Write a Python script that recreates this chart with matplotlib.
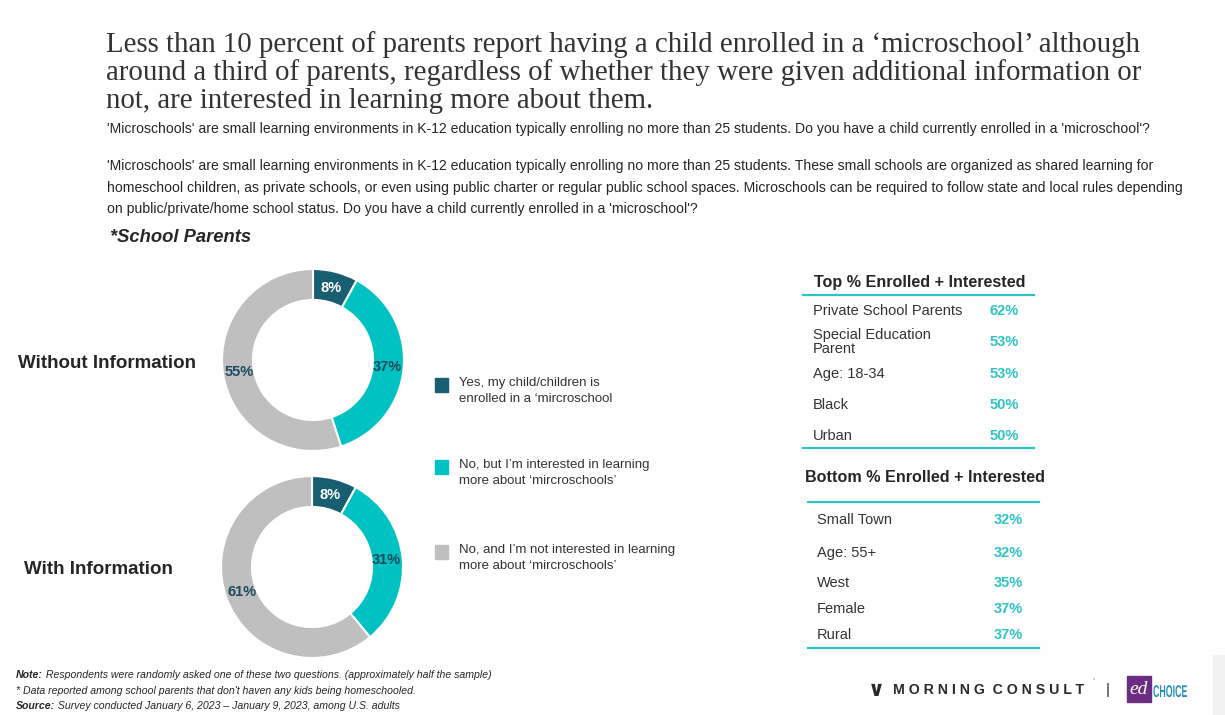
import matplotlib
matplotlib.use("Agg")
import matplotlib.pyplot as plt
from matplotlib.patches import Rectangle, PathPatch
from matplotlib.textpath import TextPath
from matplotlib.font_manager import FontProperties
from matplotlib.transforms import Affine2D

# 데이터
answers = ["Yes, my child/children is\nenrolled in a \u2018mircroschool",
           "No, but I\u2019m interested in learning\nmore about \u2018mircroschools\u2019",
           "No, and I\u2019m not interested in learning\nmore about \u2018mircroschools\u2019"]
without_info = [8, 37, 55]
with_info = [8, 31, 61]
groups = ["Without Information", "With Information"]

top_labels = ["Private School Parents", "Special Education\nParent", "Age: 18-34", "Black", "Urban"]
top_values = [62, 53, 53, 50, 50]
bottom_labels = ["Small Town", "Age: 55+", "West", "Female", "Rural"]
bottom_values = [32, 32, 35, 37, 37]

colors = ["#175f70", "#00c2c2", "#bfbfbf"]
pct_colors = ["white", "#1b4a5c", "#1b4a5c"]
cyan = "#2ec4c4"

W, H = 1225, 715
fig = plt.figure(figsize=(W / 100, H / 100), dpi=100)
renderer = fig.canvas.get_renderer()

def fx(x):
    return x / W

def fy(y):
    return 1 - y / H

# 제목
title_lines = ["Less than 10 percent of parents report having a child enrolled in a \u2018microschool\u2019 although",
               "around a third of parents, regardless of whether they were given additional information or",
               "not, are interested in learning more about them."]
for line, y in zip(title_lines, [45, 73, 101]):
    fig.text(fx(106), fy(y), line, family="Liberation Serif", fontsize=20.8, color="#333333",
             va="center", ha="left")

sub_lines = [("'Microschools' are small learning environments in K-12 education typically enrolling no more than 25 students. "
              "Do you have a child currently enrolled in a 'microschool'?", 129),
             ("'Microschools' are small learning environments in K-12 education typically enrolling no more than 25 students. "
              "These small schools are organized as shared learning for", 166),
             ("homeschool children, as private schools, or even using public charter or regular public school spaces. "
              "Microschools can be required to follow state and local rules depending", 188),
             ("on public/private/home school status. Do you have a child currently enrolled in a 'microschool'?", 209)]
for line, y in sub_lines:
    fig.text(fx(107), fy(y), line, family="Liberation Sans", fontsize=10.1, color="#262626", va="center")

fig.text(fx(110), fy(238), "*School Parents", family="Liberation Sans", fontsize=13.2, weight="bold",
         style="italic", color="#262626", va="center")

# 도넛 차트
centers = [(313, 360), (312, 567)]
label_pos = [(18, 363), (24, 569)]
R = 91
for vals, (cx, cy), grp, (lx, ly) in zip([without_info, with_info], centers, groups, label_pos):
    ax = fig.add_axes([fx(cx - R), fy(cy + R), 2 * R / W, 2 * R / H])
    wedges, _, autotexts = ax.pie(vals, colors=colors, startangle=90, counterclock=False,
                                  radius=1, autopct="%.0f%%", pctdistance=0.82,
                                  wedgeprops=dict(width=0.34, edgecolor="white", linewidth=1.5))
    for t, c in zip(autotexts, pct_colors):
        t.set_color(c)
        t.set_fontsize(10.5)
        t.set_fontweight("bold")
        t.set_family("Liberation Sans")
    ax.set_xlim(-1, 1)
    ax.set_ylim(-1, 1)
    ax.set_aspect("equal")
    ax.axis("off")
    fig.text(fx(lx), fy(ly), grp, family="Liberation Sans", fontsize=13.5, weight="bold",
             color="#262626", va="center")

# 범례
leg_y = [385, 467, 552]
for lab, c, y in zip(answers, colors, leg_y):
    fig.patches.append(Rectangle((fx(435), fy(y + 7)), 13 / W, 14 / H, color=c,
                                 transform=fig.transFigure, figure=fig))
    fig.text(fx(459), fy(y + 6), lab, family="Liberation Sans", fontsize=9.5, color="#333333",
             va="center", linespacing=1.5)

# 오른쪽 표
def hline(x0, x1, y):
    fig.add_artist(plt.Line2D([fx(x0), fx(x1)], [fy(y), fy(y)], color=cyan, lw=1.6,
                              transform=fig.transFigure))

fig.text(fx(814), fy(282), "Top % Enrolled + Interested", family="Liberation Sans", fontsize=11.6,
         weight="bold", color="#262626", va="center")
hline(803, 1034, 295)
top_y = [311, 342, 374, 405, 436]
for lab, v, y in zip(top_labels, top_values, top_y):
    fig.text(fx(813), fy(y), lab, family="Liberation Sans", fontsize=10.5, color="#333333",
             va="center", linespacing=1.05)
    fig.text(fx(990), fy(y), f"{v}%", family="Liberation Sans", fontsize=10.5, weight="bold",
             color=cyan, va="center")
hline(803, 1034, 448)

fig.text(fx(805), fy(478), "Bottom % Enrolled + Interested", family="Liberation Sans", fontsize=11.6,
         weight="bold", color="#262626", va="center")
hline(808, 1039, 502)
bottom_y = [520, 553, 583, 609, 635]
for lab, v, y in zip(bottom_labels, bottom_values, bottom_y):
    fig.text(fx(817), fy(y), lab, family="Liberation Sans", fontsize=10.5, color="#333333",
             va="center")
    fig.text(fx(994), fy(y), f"{v}%", family="Liberation Sans", fontsize=10.5, weight="bold",
             color=cyan, va="center")
hline(808, 1039, 648)

# 각주
foot = [("Note:", " Respondents were randomly asked one of these two questions. (approximately half the sample)", 675),
        ("", "* Data reported among school parents that don't haven any kids being homeschooled.", 691),
        ("Source:", " Survey conducted January 6, 2023 \u2013 January 9, 2023, among U.S. adults", 706)]
for b, t, y in foot:
    x2 = fx(16)
    if b:
        bt = fig.text(fx(16), fy(y), b, family="Liberation Sans", fontsize=7.6, weight="bold",
                      style="italic", color="#262626", va="center")
        x2 = fig.transFigure.inverted().transform((bt.get_window_extent(renderer).x1, 0))[0]
    fig.text(x2, fy(y), t, family="Liberation Sans", fontsize=7.6, style="italic",
             color="#262626", va="center")

# 로고
fig.text(fx(868), fy(690), "\u2228", family="DejaVu Sans", fontsize=15, weight="bold",
         color="#2a2a2a", va="center")
fig.text(fx(893), fy(690), "M O R N I N G  C O N S U L T", family="Liberation Sans", fontsize=10.2,
         weight="bold", color="#2a2a2a", va="center")
fig.text(fx(1093), fy(681), "\u00b0", family="Liberation Sans", fontsize=4, color="#2a2a2a", va="center")
fig.text(fx(1106), fy(690), "|", family="Liberation Sans", fontsize=11, color="#2a2a2a", va="center")
fig.patches.append(Rectangle((fx(1127), fy(702)), 24 / W, 26 / H, color="#6b2d83",
                             transform=fig.transFigure, figure=fig))
fig.text(fx(1139), fy(689), "ed", family="Liberation Serif", fontsize=14, style="italic",
         color="white", va="center", ha="center")
# CHOICE: 좁은 글꼴 대신 가로로 눌러서 그림
tp = TextPath((0, 0), "CHOICE", size=17, prop=FontProperties(family="Liberation Sans", weight="bold"))
tp = Affine2D().scale(0.52, 1.0).translate(1153, H - 697).transform_path(tp)
fig.add_artist(PathPatch(tp, color="#2a8fb8", lw=0, transform=Affine2D().scale(1 / W, 1 / H) + fig.transFigure))

# 오른쪽 가장자리 회색 띠
fig.patches.append(Rectangle((fx(1213), 0), 12 / W, 60 / H, color="#f2f2f2",
                             transform=fig.transFigure, figure=fig))

fig.savefig("out.png", dpi=100)
